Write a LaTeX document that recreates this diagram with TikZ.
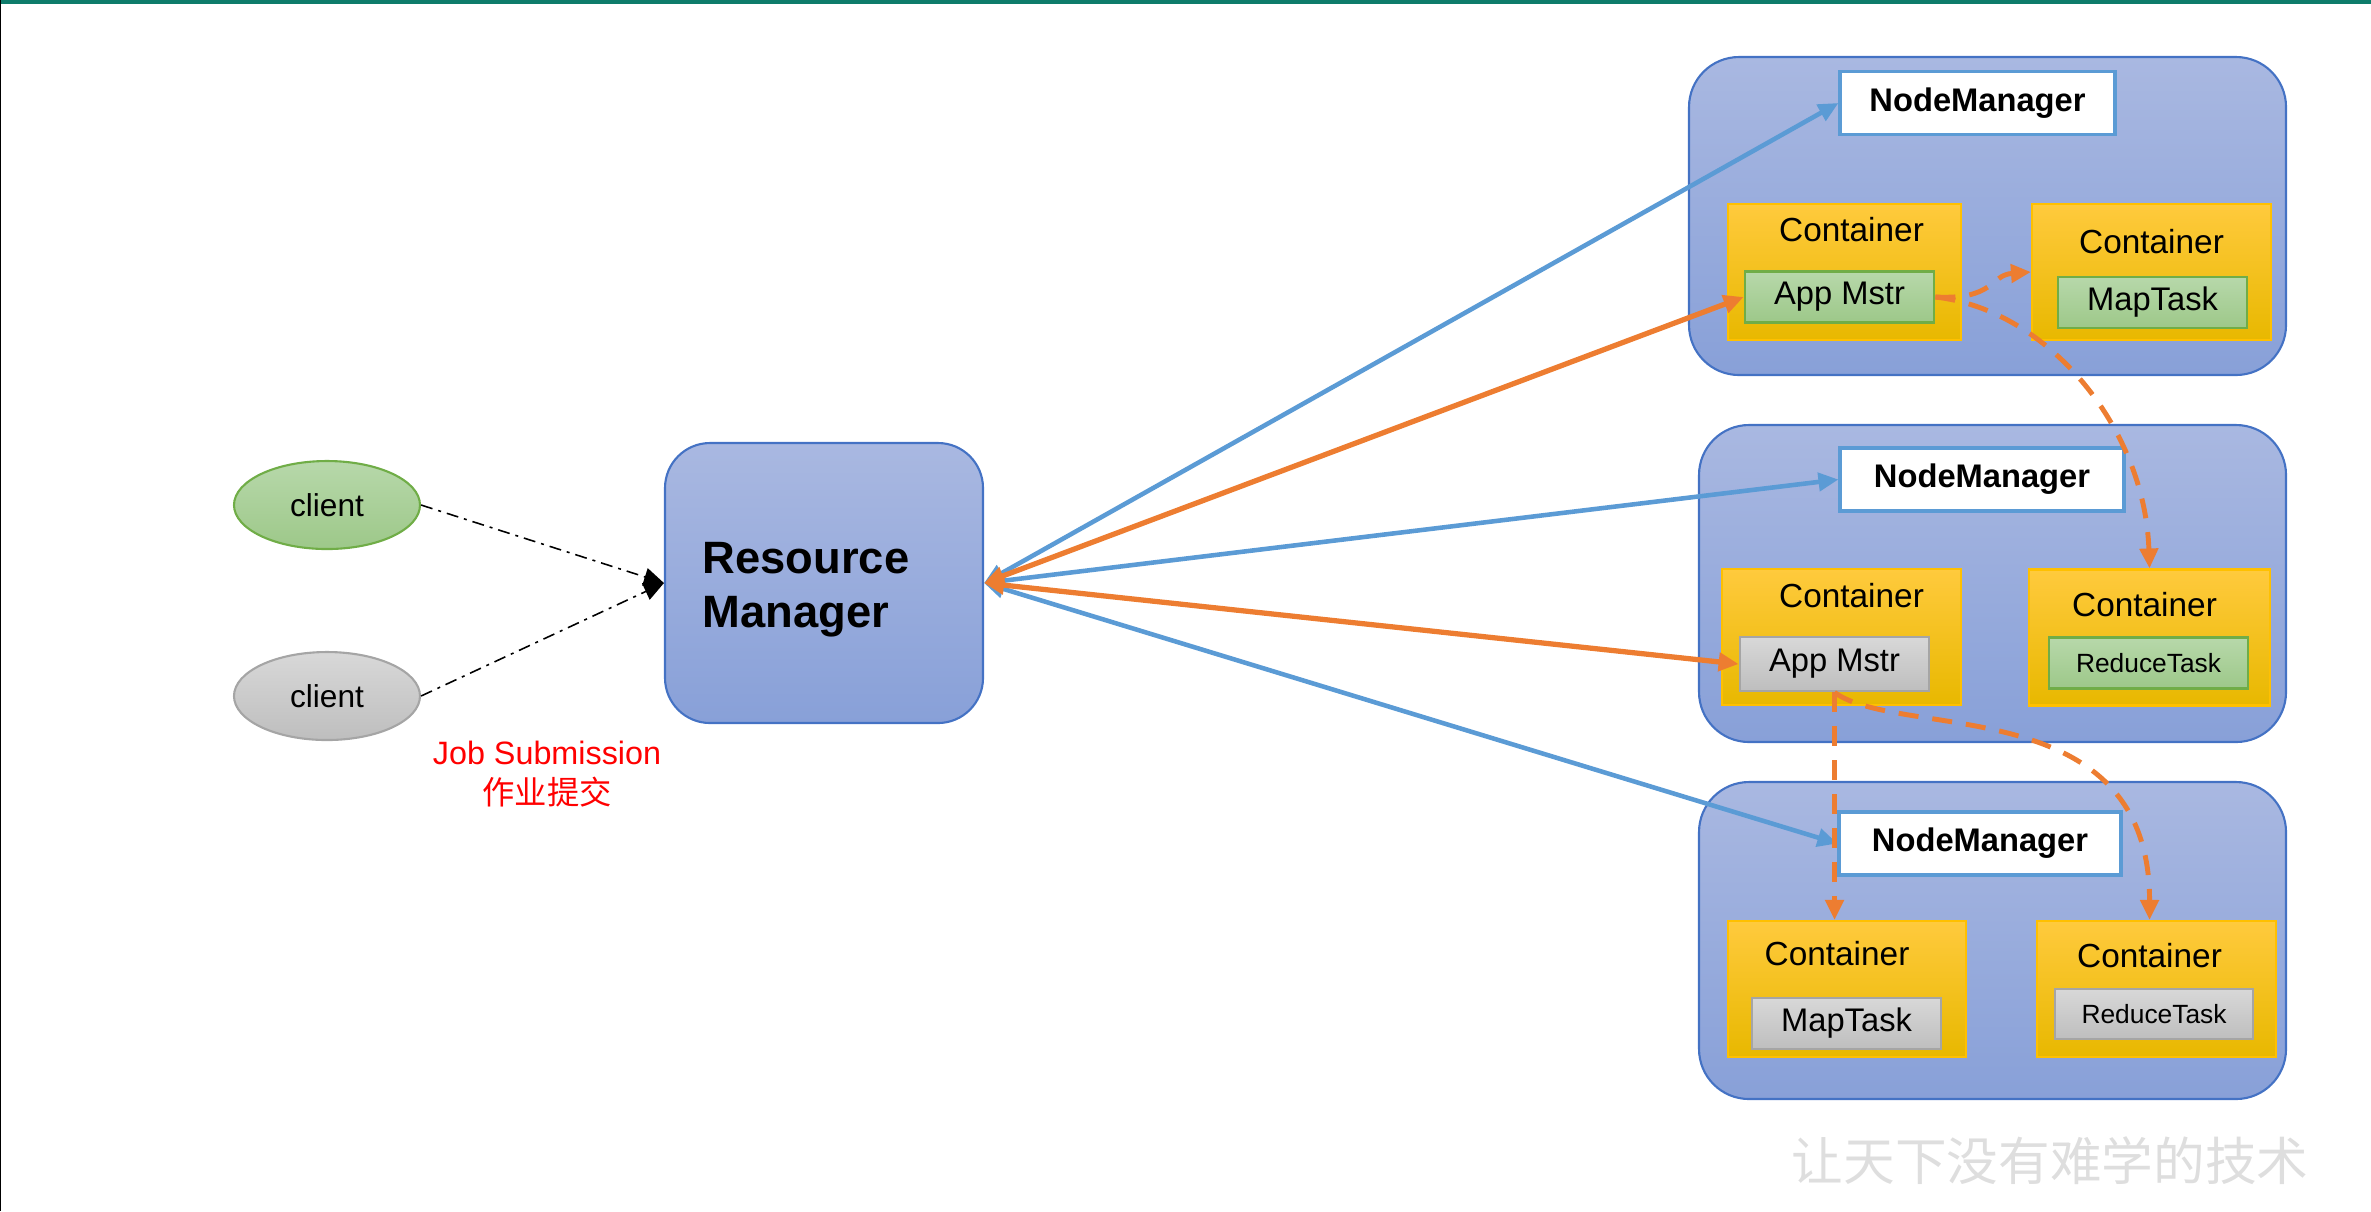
\documentclass[tikz,border=0pt]{standalone}
\usepackage{fontspec}
\setmainfont{Liberation Sans}
\newfontfamily\cjk{Noto Sans CJK SC}
\usetikzlibrary{positioning, arrows.meta, shapes.geometric}
\definecolor{boxtop}{HTML}{A9B8E1}
\definecolor{boxbot}{HTML}{88A0D8}
\definecolor{rmline}{HTML}{4472C4}
\definecolor{nmline}{HTML}{5B9BD5}
\definecolor{conttop}{HTML}{FFCA3D}
\definecolor{contbot}{HTML}{E8B800}
\definecolor{contline}{HTML}{FFC000}
\definecolor{greentop}{HTML}{B7D8AA}
\definecolor{greenbot}{HTML}{9DC889}
\definecolor{greenline}{HTML}{70AD47}
\definecolor{graytop}{HTML}{D8D8D8}
\definecolor{graybot}{HTML}{BEBEBE}
\definecolor{grayline}{HTML}{A5A5A5}
\definecolor{linkorange}{HTML}{ED7D31}
\definecolor{topbar}{HTML}{0E7C6B}
\tikzset{
	>={Triangle[length=2mm,width=1.8mm]},
	every node/.style={inner sep=0pt},
	host/.style={draw=rmline, line width=0.6pt, rounded corners=0.5cm, top color=boxtop, bottom color=boxbot},
	nmlabel/.style={draw=nmline, line width=0.9pt, fill=white, minimum height=0.63cm, font=\bfseries\fontsize{9.3}{11}\selectfont},
	cont/.style={draw=contline, line width=0.6pt, top color=conttop, bottom color=contbot, minimum height=1.36cm},
	ctitle/.style={font=\fontsize{9.5}{11}\selectfont},
	task/.style={line width=0.8pt, minimum width=1.89cm, minimum height=0.51cm, font=\fontsize{9.3}{11}\selectfont},
	greentask/.style={task, draw=greenline, top color=greentop, bottom color=greenbot},
	graytask/.style={task, draw=grayline, top color=graytop, bottom color=graybot},
	client/.style={ellipse, line width=0.6pt, minimum width=1.86cm, minimum height=0.88cm, font=\fontsize{9}{11}\selectfont},
	submit/.style={->, line width=0.45pt, dash pattern=on 0.12cm off 0.06cm on 0.03cm off 0.06cm},
	heartbeat/.style={<->, draw=nmline, line width=1.3pt},
	launch/.style={<->, draw=linkorange, line width=1.5pt},
	request/.style={->, draw=linkorange, line width=1.4pt, dash pattern=on 0.2cm off 0.14cm}}

\begin{document}
\begin{tikzpicture}
		\useasboundingbox (0,0) rectangle (23.71,-12.11);
		\fill[topbar] (0,0) rectangle (23.71,-0.035);
		\draw[line width=0.5pt] (0,0) -- (0,-12.11);
		
		%clients
		\node[client, draw=greenline, top color=greentop, bottom color=greenbot] (cl1) at (3.27,-5.05) {client};
		\node[client, draw=grayline, top color=graytop, bottom color=graybot] (cl2) at (3.27,-6.96) {client};
		\node[align=center, text=red, font=\fontsize{9.2}{11.4}\selectfont] (job) at (5.47,-7.74) {Job Submission\\{\cjk 作业提交}};
		
		%RM
		\node[host, rounded corners=0.45cm, minimum width=3.18cm, minimum height=2.8cm] (rm) at (8.24,-5.83) {};
		\node[right=0.38cm of rm.west, yshift=-0.07cm, align=left, font=\bfseries\fontsize{12.9}{15.4}\selectfont] (rmtext) {Resource\\Manager};
		
		%NMs
		\node[host, minimum width=5.97cm, minimum height=3.18cm] (nm1) at (19.875,-2.16) {};
		\node[host, minimum width=5.87cm, minimum height=3.17cm] (nm2) at (19.925,-5.835) {};
		\node[host, minimum width=5.87cm, minimum height=3.17cm] (nm3) at (19.925,-9.405) {};
		\node[nmlabel, minimum width=2.75cm] (nmA) at (19.775,-1.03) {NodeManager};
		\node[nmlabel, minimum width=2.84cm] (nmB) at (19.82,-4.795) {NodeManager};
		\node[nmlabel, minimum width=2.82cm] (nmC) at (19.80,-8.435) {NodeManager};
		
		%containers
		\node[cont, minimum width=2.33cm] (c1a) at (18.445,-2.72) {};
		\node[cont, minimum width=2.39cm] (c1b) at (21.515,-2.72) {};
		\node[cont, minimum width=2.39cm] (c2a) at (18.415,-6.37) {};
		\node[cont, minimum width=2.41cm] (c2b) at (21.495,-6.375) {};
		\node[cont, minimum width=2.38cm] (c3a) at (18.47,-9.89) {};
		\node[cont, minimum width=2.39cm] (c3b) at (21.565,-9.89) {};
		\node[ctitle, below=0.14cm of c1a.north, xshift=0.07cm] (t1a) {Container};
		\node[ctitle, below=0.26cm of c1b.north] (t1b) {Container};
		\node[ctitle, below=0.15cm of c2a.north, xshift=0.1cm] (t2a) {Container};
		\node[ctitle, below=0.23cm of c2b.north, xshift=-0.05cm] (t2b) {Container};
		\node[ctitle, below=0.21cm of c3a.north, xshift=-0.1cm] (t3a) {Container};
		\node[ctitle, below=0.23cm of c3b.north, xshift=-0.07cm] (t3b) {Container};
		
		%tasks
		\node[greentask] (app1) at (18.395,-2.97) {App Mstr};
		\node[greentask] (map1) at (21.525,-3.025) {MapTask};
		\node[graytask, minimum height=0.54cm] (app2) at (18.345,-6.64) {App Mstr};
		\node[greentask, minimum width=1.99cm, font=\fontsize{7.5}{9}\selectfont] (red2) at (21.485,-6.63) {ReduceTask};
		\node[graytask] (map3) at (18.465,-10.235) {MapTask};
		\node[graytask, minimum width=1.98cm, minimum height=0.5cm, font=\fontsize{7.5}{9}\selectfont] (red3) at (21.54,-10.14) {ReduceTask};
		
		%links
		\draw[submit] (cl1.east) -- (rm.west);
		\draw[submit] (cl2.east) -- (rm.west);
		\draw[heartbeat] (rm.east) -- (nmA.west);
		\draw[heartbeat] (rm.east) -- (nmB.west);
		\draw[heartbeat] (rm.east) -- (nmC.west);
		\draw[launch] (rm.east) -- (app1.west);
		\draw[launch] (rm.east) -- (app2.west);
		\draw[request] (app1.east) .. controls (19.95,-3.0) and (19.9,-2.75) .. (c1b.west);
		\draw[request] (app1.east) .. controls (20.5,-3.1) and (21.45,-4.3) .. (c2b.north);
		\draw[request] (app2.south) -- (app2.south |- c3a.north);
		\draw[request] (app2.south) .. controls (19.0,-7.4) and (21.5,-6.9) .. ([xshift=-0.07cm]c3b.north);
		
		\node[text=black!13, font=\cjk\fontsize{14.7}{16}\selectfont] (motto) at (20.5,-11.61) {让天下没有难学的技术};
\end{tikzpicture}
\end{document}
